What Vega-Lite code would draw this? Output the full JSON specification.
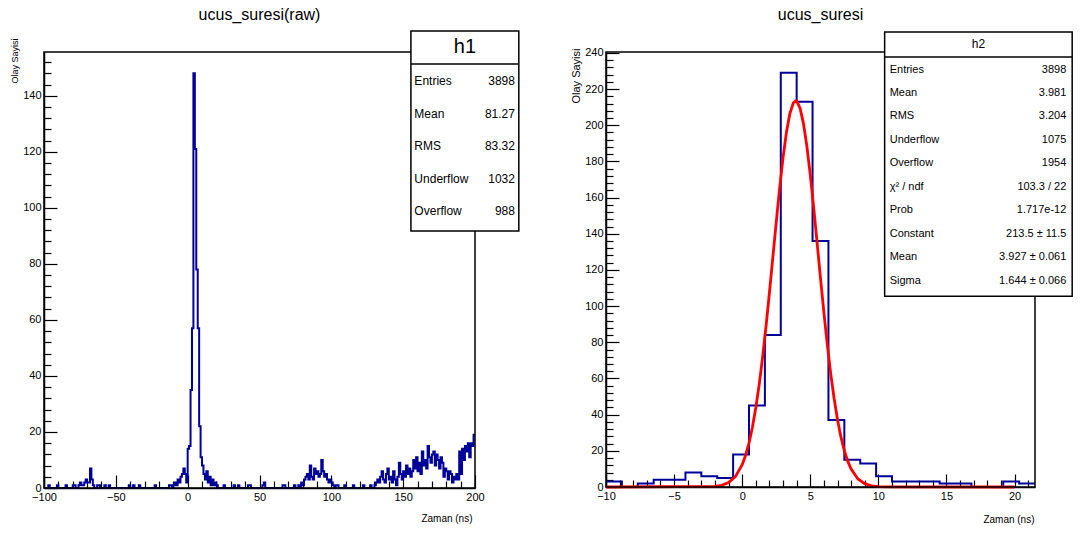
{
"$schema":"https://vega.github.io/schema/vega-lite/v6.json",
"background":"white",
"padding":{"left":10,"top":7,"right":5,"bottom":5},
"bounds":"flush",
"spacing":131,
"config":{
 "view":{"stroke":null},
 "font":"Liberation Sans",
 "axis":{"grid":false,"domainColor":"black","domainWidth":1.5,"tickColor":"black","tickWidth":1.2,"labelColor":"black","labelFont":"Liberation Sans","labelFontSize":11,"titleFont":"Liberation Sans","titleFontSize":11,"titleFontWeight":"normal","titleColor":"black","labelOverlap":false,"labelFlush":false},
 "text":{"font":"Liberation Sans","color":"black"}
},
"datasets":{
 "h1":[{"x":-100,"n":0},{"x":-97,"n":1},{"x":-96,"n":0},{"x":-91,"n":1},{"x":-90,"n":0},{"x":-85,"n":1},{"x":-84,"n":0},{"x":-80,"n":1},{"x":-79,"n":1},{"x":-78,"n":0},{"x":-76,"n":1},{"x":-75,"n":2},{"x":-74,"n":1},{"x":-73,"n":1},{"x":-72,"n":2},{"x":-71,"n":3},{"x":-70,"n":2},{"x":-69,"n":2},{"x":-68,"n":7},{"x":-67,"n":3},{"x":-66,"n":1},{"x":-65,"n":0},{"x":-63,"n":1},{"x":-62,"n":1},{"x":-61,"n":0},{"x":-58,"n":1},{"x":-57,"n":0},{"x":-55,"n":1},{"x":-54,"n":0},{"x":-41,"n":1},{"x":-40,"n":0},{"x":-38,"n":1},{"x":-37,"n":0},{"x":-34,"n":1},{"x":-33,"n":0},{"x":-23,"n":1},{"x":-22,"n":0},{"x":-13,"n":1},{"x":-12,"n":1},{"x":-11,"n":0},{"x":-10,"n":1},{"x":-9,"n":2},{"x":-8,"n":1},{"x":-7,"n":3},{"x":-6,"n":2},{"x":-5,"n":4},{"x":-4,"n":5},{"x":-3,"n":7},{"x":-2,"n":5},{"x":-1,"n":2},{"x":0,"n":14},{"x":1,"n":15},{"x":2,"n":35},{"x":3,"n":57},{"x":4,"n":148},{"x":5,"n":121},{"x":6,"n":78},{"x":7,"n":57},{"x":8,"n":22},{"x":9,"n":11},{"x":10,"n":8},{"x":11,"n":5},{"x":12,"n":3},{"x":13,"n":6},{"x":14,"n":2},{"x":15,"n":4},{"x":16,"n":1},{"x":17,"n":3},{"x":18,"n":1},{"x":19,"n":2},{"x":20,"n":1},{"x":21,"n":0},{"x":25,"n":1},{"x":26,"n":0},{"x":32,"n":1},{"x":33,"n":0},{"x":35,"n":1},{"x":36,"n":0},{"x":42,"n":1},{"x":43,"n":1},{"x":44,"n":0},{"x":52,"n":1},{"x":53,"n":2},{"x":54,"n":0},{"x":66,"n":1},{"x":67,"n":1},{"x":68,"n":0},{"x":74,"n":1},{"x":75,"n":0},{"x":77,"n":1},{"x":78,"n":0},{"x":79,"n":2},{"x":80,"n":1},{"x":81,"n":3},{"x":82,"n":4},{"x":83,"n":5},{"x":84,"n":3},{"x":85,"n":8},{"x":86,"n":4},{"x":87,"n":3},{"x":88,"n":7},{"x":89,"n":5},{"x":90,"n":6},{"x":91,"n":4},{"x":92,"n":5},{"x":93,"n":10},{"x":94,"n":6},{"x":95,"n":4},{"x":96,"n":5},{"x":97,"n":3},{"x":98,"n":2},{"x":99,"n":3},{"x":100,"n":2},{"x":101,"n":1},{"x":102,"n":0},{"x":103,"n":1},{"x":104,"n":1},{"x":105,"n":0},{"x":109,"n":1},{"x":110,"n":0},{"x":115,"n":1},{"x":116,"n":0},{"x":122,"n":1},{"x":123,"n":0},{"x":127,"n":1},{"x":128,"n":0},{"x":130,"n":1},{"x":131,"n":2},{"x":132,"n":3},{"x":133,"n":2},{"x":134,"n":4},{"x":135,"n":6},{"x":136,"n":3},{"x":137,"n":2},{"x":138,"n":5},{"x":139,"n":7},{"x":140,"n":3},{"x":141,"n":4},{"x":142,"n":2},{"x":143,"n":6},{"x":144,"n":3},{"x":145,"n":1},{"x":146,"n":4},{"x":147,"n":9},{"x":148,"n":5},{"x":149,"n":3},{"x":150,"n":6},{"x":151,"n":4},{"x":152,"n":8},{"x":153,"n":5},{"x":154,"n":7},{"x":155,"n":4},{"x":156,"n":6},{"x":157,"n":10},{"x":158,"n":7},{"x":159,"n":11},{"x":160,"n":6},{"x":161,"n":9},{"x":162,"n":5},{"x":163,"n":13},{"x":164,"n":8},{"x":165,"n":10},{"x":166,"n":7},{"x":167,"n":15},{"x":168,"n":11},{"x":169,"n":9},{"x":170,"n":12},{"x":171,"n":13},{"x":172,"n":8},{"x":173,"n":12},{"x":174,"n":10},{"x":175,"n":7},{"x":176,"n":11},{"x":177,"n":9},{"x":178,"n":4},{"x":179,"n":7},{"x":180,"n":6},{"x":181,"n":3},{"x":182,"n":6},{"x":183,"n":5},{"x":184,"n":2},{"x":185,"n":4},{"x":186,"n":3},{"x":187,"n":5},{"x":188,"n":3},{"x":189,"n":13},{"x":190,"n":5},{"x":191,"n":14},{"x":192,"n":10},{"x":193,"n":15},{"x":194,"n":13},{"x":195,"n":16},{"x":196,"n":11},{"x":197,"n":16},{"x":198,"n":15},{"x":199,"n":19},{"x":200,"n":19}],
 "h2":[{"x":-10,"n":3},{"x":-8.8333,"n":0},{"x":-7.6667,"n":2},{"x":-6.5,"n":4},{"x":-5.3333,"n":4},{"x":-4.1667,"n":8},{"x":-3.0,"n":6},{"x":-1.8333,"n":5},{"x":-0.6667,"n":18},{"x":0.5,"n":45},{"x":1.6667,"n":84},{"x":2.8333,"n":229},{"x":4.0,"n":213},{"x":5.1667,"n":136},{"x":6.3333,"n":37},{"x":7.5,"n":15},{"x":8.6667,"n":13},{"x":9.8333,"n":6},{"x":11.0,"n":3},{"x":12.1667,"n":3},{"x":13.3333,"n":3},{"x":14.5,"n":2},{"x":15.6667,"n":2},{"x":16.8333,"n":0},{"x":18.0,"n":0},{"x":19.1667,"n":3},{"x":20.3333,"n":2},{"x":21.5,"n":2}],
 "fit":[{"x":-10,"f":0},{"x":-2,"f":0.32},{"x":-1.5,"f":0.92},{"x":-1,"f":2.4},{"x":-0.5,"f":5.69},{"x":0,"f":12.3},{"x":0.25,"f":17.5},{"x":0.5,"f":24.3},{"x":0.75,"f":33.0},{"x":1,"f":43.8},{"x":1.25,"f":56.7},{"x":1.5,"f":71.8},{"x":1.75,"f":88.8},{"x":2,"f":107.4},{"x":2.25,"f":126.9},{"x":2.5,"f":146.5},{"x":2.75,"f":165.2},{"x":3,"f":182.1},{"x":3.25,"f":196.1},{"x":3.5,"f":206.4},{"x":3.75,"f":212.3},{"x":3.927,"f":213.5},{"x":4,"f":213.3},{"x":4.25,"f":209.4},{"x":4.5,"f":200.9},{"x":4.75,"f":188.4},{"x":5,"f":172.6},{"x":5.25,"f":154.4},{"x":5.5,"f":135.1},{"x":5.75,"f":115.5},{"x":6,"f":96.4},{"x":6.25,"f":78.7},{"x":6.5,"f":62.7},{"x":6.75,"f":48.9},{"x":7,"f":37.2},{"x":7.25,"f":27.7},{"x":7.5,"f":20.1},{"x":7.75,"f":14.3},{"x":8,"f":9.92},{"x":8.5,"f":4.46},{"x":9,"f":1.83},{"x":9.5,"f":0.68},{"x":10,"f":0.23},{"x":11,"f":0.02},{"x":20,"f":0}],
 "h1stats":[{"row":1,"name":"Entries","val":"3898"},{"row":2,"name":"Mean","val":"81.27"},{"row":3,"name":"RMS","val":"83.32"},{"row":4,"name":"Underflow","val":"1032"},{"row":5,"name":"Overflow","val":"988"}],
 "h2stats":[{"row":1,"name":"Entries","val":"3898"},{"row":2,"name":"Mean","val":"3.981"},{"row":3,"name":"RMS","val":"3.204"},{"row":4,"name":"Underflow","val":"1075"},{"row":5,"name":"Overflow","val":"1954"},{"row":6,"name":"χ² / ndf","val":"103.3 / 22"},{"row":7,"name":"Prob","val":"1.717e-12"},{"row":8,"name":"Constant","val":"213.5 ± 11.5"},{"row":9,"name":"Mean","val":"3.927 ± 0.061"},{"row":10,"name":"Sigma","val":"1.644 ± 0.066"}]
},
"hconcat":[
 {
  "width":431,"height":436,
  "resolve":{"scale":{"x":"independent","y":"independent"},"axis":{"x":"independent","y":"independent"}},
  "layer":[
   {"data":{"name":"h1"},"mark":{"type":"line","interpolate":"step-after","color":"#000099","strokeWidth":2},
    "encoding":{
     "x":{"field":"x","type":"quantitative","scale":{"domain":[-100,200],"nice":false,"zero":false},
      "axis":{"orient":"bottom","values":[-100,-50,0,50,100,150,200],"tickSize":-13,"labelPadding":16,"title":"Zaman (ns)","titleAnchor":"end","titleAlign":"right","titleX":428,"titleY":30,"titleBaseline":"middle","titleFontSize":10}},
     "y":{"field":"n","type":"quantitative","scale":{"domain":[0,155.6],"nice":false},
      "axis":{"orient":"left","values":[0,20,40,60,80,100,120,140],"tickSize":-13,"labelPadding":16,"title":"Olay Sayisi","titleAngle":270,"titleX":-30,"titleY":-14,"titleAlign":"right","titleBaseline":"middle","titleFontSize":9}}}},
   {"data":{"values":[{}]},"mark":{"type":"rect","filled":false,"stroke":"black","strokeWidth":1.5},
    "encoding":{
     "x":{"datum":-100,"type":"quantitative","scale":{"domain":[-100,200],"nice":false,"zero":false},
      "axis":{"orient":"bottom","values":[-90,-80,-70,-60,-40,-30,-20,-10,10,20,30,40,60,70,80,90,110,120,130,140,160,170,180,190],"tickSize":-7,"labels":false,"domain":false,"title":null}},
     "x2":{"datum":200},
     "y":{"datum":0,"type":"quantitative","scale":{"domain":[0,155.6],"nice":false},
      "axis":{"orient":"left","values":[4,8,12,16,24,28,32,36,44,48,52,56,64,68,72,76,84,88,92,96,104,108,112,116,124,128,132,136,144,148,152],"tickSize":-7,"labels":false,"domain":false,"title":null}},
     "y2":{"datum":155.6}}},
   {"data":{"values":[{}]},"mark":{"type":"text","text":"ucus_suresi(raw)","fontSize":16,"align":"center","baseline":"middle"},
    "encoding":{
     "x":{"datum":50,"type":"quantitative","scale":{"domain":[-100,200],"nice":false,"zero":false},"axis":null},
     "y":{"datum":168.8,"type":"quantitative","scale":{"domain":[0,155.6],"nice":false},"axis":null}}},
   {"data":{"values":[{}]},"mark":{"type":"rect","fill":"white","stroke":"black","strokeWidth":1.5},
    "encoding":{
     "x":{"datum":155.4,"type":"quantitative","scale":{"domain":[-100,200],"nice":false,"zero":false},"axis":null},
     "x2":{"datum":230.5},
     "y":{"datum":91.7,"type":"quantitative","scale":{"domain":[0,155.6],"nice":false},"axis":null},
     "y2":{"datum":163.1}}},
   {"data":{"values":[{}]},"mark":{"type":"rule","stroke":"black","strokeWidth":1.5},
    "encoding":{
     "x":{"datum":155.4,"type":"quantitative","scale":{"domain":[-100,200],"nice":false,"zero":false},"axis":null},
     "x2":{"datum":230.5},
     "y":{"datum":151.3,"type":"quantitative","scale":{"domain":[0,155.6],"nice":false},"axis":null}}},
   {"data":{"values":[{}]},"mark":{"type":"text","text":"h1","fontSize":20,"align":"center","baseline":"middle"},
    "encoding":{
     "x":{"datum":193,"type":"quantitative","scale":{"domain":[-100,200],"nice":false,"zero":false},"axis":null},
     "y":{"datum":157.4,"type":"quantitative","scale":{"domain":[0,155.6],"nice":false},"axis":null}}},
   {"data":{"name":"h1stats"},"mark":{"type":"text","fontSize":12,"align":"left","baseline":"middle"},
    "encoding":{
     "x":{"datum":157.8,"type":"quantitative","scale":{"domain":[-100,200],"nice":false,"zero":false},"axis":null},
     "y":{"field":"row","type":"quantitative","scale":{"domain":[0.110,13.485],"reverse":true,"nice":false,"zero":false},"axis":null},
     "text":{"field":"name"}}},
   {"data":{"name":"h1stats"},"mark":{"type":"text","fontSize":12,"align":"right","baseline":"middle"},
    "encoding":{
     "x":{"datum":227.8,"type":"quantitative","scale":{"domain":[-100,200],"nice":false,"zero":false},"axis":null},
     "y":{"field":"row","type":"quantitative","scale":{"domain":[0.110,13.485],"reverse":true,"nice":false,"zero":false},"axis":null},
     "text":{"field":"val"}}}
  ]
 },
 {
  "width":429,"height":435,
  "resolve":{"scale":{"x":"independent","y":"independent"},"axis":{"x":"independent","y":"independent"}},
  "layer":[
   {"data":{"name":"h2"},"mark":{"type":"line","interpolate":"step-after","color":"#000099","strokeWidth":2},
    "encoding":{
     "x":{"field":"x","type":"quantitative","scale":{"domain":[-10,21.5],"nice":false,"zero":false},
      "axis":{"orient":"bottom","values":[-10,-5,0,5,10,15,20],"tickSize":-13,"labelPadding":16,"title":"Zaman (ns)","titleAnchor":"end","titleAlign":"right","titleX":428,"titleY":32,"titleBaseline":"middle","titleFontSize":10}},
     "y":{"field":"n","type":"quantitative","scale":{"domain":[0,240.5],"nice":false},
      "axis":{"orient":"left","values":[0,20,40,60,80,100,120,140,160,180,200,220,240],"tickSize":-13,"labelPadding":16,"title":"Olay Sayisi","titleAngle":270,"titleX":-30,"titleY":-4,"titleAlign":"right","titleBaseline":"middle","titleFontSize":11}}}},
   {"data":{"name":"fit"},"mark":{"type":"line","color":"#ff0000","strokeWidth":2.8},
    "encoding":{
     "x":{"field":"x","type":"quantitative","scale":{"domain":[-10,21.5],"nice":false,"zero":false},"axis":null},
     "y":{"field":"f","type":"quantitative","scale":{"domain":[0,240.5],"nice":false},"axis":null}}},
   {"data":{"values":[{}]},"mark":{"type":"rect","filled":false,"stroke":"black","strokeWidth":1.5},
    "encoding":{
     "x":{"datum":-10,"type":"quantitative","scale":{"domain":[-10,21.5],"nice":false,"zero":false},
      "axis":{"orient":"bottom","values":[-9,-8,-7,-6,-4,-3,-2,-1,1,2,3,4,6,7,8,9,11,12,13,14,16,17,18,19,21],"tickSize":-7,"labels":false,"domain":false,"title":null}},
     "x2":{"datum":21.5},
     "y":{"datum":0,"type":"quantitative","scale":{"domain":[0,240.5],"nice":false},
      "axis":{"orient":"left","values":[4,8,12,16,24,28,32,36,44,48,52,56,64,68,72,76,84,88,92,96,104,108,112,116,124,128,132,136,144,148,152,156,164,168,172,176,184,188,192,196,204,208,212,216,224,228,232,236],"tickSize":-7,"labels":false,"domain":false,"title":null}},
     "y2":{"datum":240.5}}},
   {"data":{"values":[{}]},"mark":{"type":"text","text":"ucus_suresi","fontSize":16,"align":"center","baseline":"middle"},
    "encoding":{
     "x":{"datum":5.75,"type":"quantitative","scale":{"domain":[-10,21.5],"nice":false,"zero":false},"axis":null},
     "y":{"datum":260.9,"type":"quantitative","scale":{"domain":[0,240.5],"nice":false},"axis":null}}},
   {"data":{"values":[{}]},"mark":{"type":"rect","fill":"white","stroke":"black","strokeWidth":1.5},
    "encoding":{
     "x":{"datum":10.46,"type":"quantitative","scale":{"domain":[-10,21.5],"nice":false,"zero":false},"axis":null},
     "x2":{"datum":24.23},
     "y":{"datum":105.4,"type":"quantitative","scale":{"domain":[0,240.5],"nice":false},"axis":null},
     "y2":{"datum":251.6}}},
   {"data":{"values":[{}]},"mark":{"type":"rule","stroke":"black","strokeWidth":1.5},
    "encoding":{
     "x":{"datum":10.46,"type":"quantitative","scale":{"domain":[-10,21.5],"nice":false,"zero":false},"axis":null},
     "x2":{"datum":24.23},
     "y":{"datum":237.8,"type":"quantitative","scale":{"domain":[0,240.5],"nice":false},"axis":null}}},
   {"data":{"values":[{}]},"mark":{"type":"text","text":"h2","fontSize":12,"align":"center","baseline":"middle"},
    "encoding":{
     "x":{"datum":17.35,"type":"quantitative","scale":{"domain":[-10,21.5],"nice":false,"zero":false},"axis":null},
     "y":{"datum":244.7,"type":"quantitative","scale":{"domain":[0,240.5],"nice":false},"axis":null}}},
   {"data":{"name":"h2stats"},"mark":{"type":"text","fontSize":11,"align":"left","baseline":"middle"},
    "encoding":{
     "x":{"datum":10.83,"type":"quantitative","scale":{"domain":[-10,21.5],"nice":false,"zero":false},"axis":null},
     "y":{"field":"row","type":"quantitative","scale":{"domain":[0.255,18.77],"reverse":true,"nice":false,"zero":false},"axis":null},
     "text":{"field":"name"}}},
   {"data":{"name":"h2stats"},"mark":{"type":"text","fontSize":11,"align":"right","baseline":"middle"},
    "encoding":{
     "x":{"datum":23.8,"type":"quantitative","scale":{"domain":[-10,21.5],"nice":false,"zero":false},"axis":null},
     "y":{"field":"row","type":"quantitative","scale":{"domain":[0.255,18.77],"reverse":true,"nice":false,"zero":false},"axis":null},
     "text":{"field":"val"}}}
  ]
 }
]
}
